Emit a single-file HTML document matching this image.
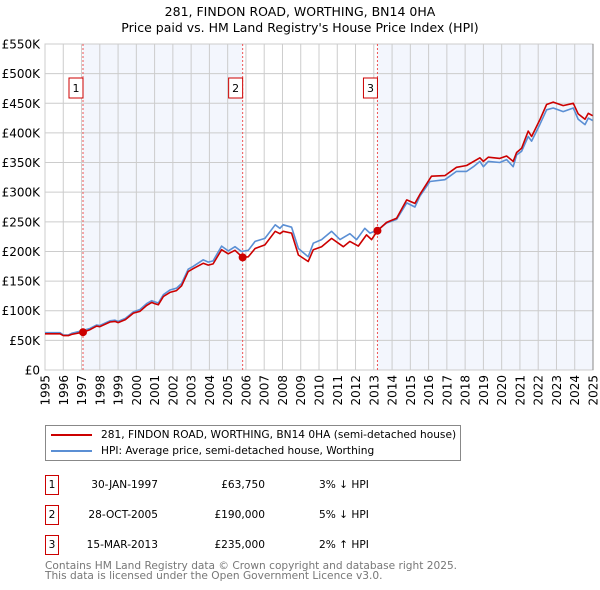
<!DOCTYPE html>
<html><head><meta charset="utf-8"><style>
body{margin:0;background:#fff;font-family:"DejaVu Sans","Liberation Sans",sans-serif;}
#wrap{position:relative;width:600px;height:590px;overflow:hidden;}
.t{position:absolute;color:#000;white-space:nowrap;}
</style></head><body>
<div id="wrap">
<svg id="chart" width="600" height="420" style="position:absolute;left:0;top:0"></svg>
<div class="t" style="left:0;width:600px;text-align:center;top:4px;font-size:12.5px;line-height:16px">281, FINDON ROAD, WORTHING, BN14 0HA<br>Price paid vs. HM Land Registry's House Price Index (HPI)</div>
<div style="position:absolute;left:45px;top:425px;width:416px;height:36px;border:1px solid #888;box-sizing:border-box;font-size:10.6px">
 <div style="position:absolute;left:5px;top:3px;white-space:nowrap"><span style="display:inline-block;width:41px;height:2px;background:#cc0000;vertical-align:middle;margin-right:9px"></span>281, FINDON ROAD, WORTHING, BN14 0HA (semi-detached house)</div>
 <div style="position:absolute;left:5px;top:19px;white-space:nowrap"><span style="display:inline-block;width:41px;height:2px;background:#5b8fd4;vertical-align:middle;margin-right:9px"></span>HPI: Average price, semi-detached house, Worthing</div>
</div>
<div id="tbl" style="font-size:10.6px"></div>
<div class="t" style="left:45px;top:561px;font-size:10.6px;line-height:10px;color:#777">Contains HM Land Registry data © Crown copyright and database right 2025.<br>This data is licensed under the Open Government Licence v3.0.</div>
</div>
<script>
const hpiYears=[1995.0,1995.82,1996.0,1996.28,1996.46,1997.0,1997.46,1997.83,1998.0,1998.56,1998.83,1999.0,1999.4,1999.84,2000.2,2000.57,2000.84,2001.0,2001.2,2001.48,2001.84,2002.2,2002.48,2002.84,2003.12,2003.66,2003.94,2004.2,2004.67,2005.03,2005.4,2005.76,2006.13,2006.5,2007.04,2007.6,2007.86,2008.04,2008.5,2008.87,2009.41,2009.69,2010.14,2010.69,2011.15,2011.69,2012.06,2012.51,2012.79,2013.19,2013.7,2014.25,2014.8,2015.25,2015.52,2016.07,2016.89,2017.53,2018.08,2018.45,2018.81,2019.0,2019.27,2019.9,2020.27,2020.63,2020.82,2021.09,2021.45,2021.64,2022.09,2022.46,2022.82,2023.37,2023.92,2024.19,2024.56,2024.74,2024.98];
const hpiValues=[63,63,59,59,62,66,70,76,75,83,84,82,87,98,102,112,117,115,113,127,135,138,146,170,175,186,182,184,209,201,208,200,202,217,222,245,239,245,241,205,191,214,220,234,220,230,220,239,231,236,248,254,282,275,293,318,321,335,335,343,352,343,352,350,355,343,363,369,394,386,414,439,442,436,442,423,414,425,421];
const ppYears=[1995.0,1995.82,1996.0,1996.28,1996.46,1997.08,1997.46,1997.83,1998.0,1998.56,1998.83,1999.0,1999.4,1999.84,2000.2,2000.57,2000.84,2001.0,2001.2,2001.48,2001.84,2002.2,2002.48,2002.84,2003.12,2003.66,2003.94,2004.2,2004.67,2005.03,2005.4,2005.82,2006.13,2006.5,2007.04,2007.6,2007.86,2008.04,2008.5,2008.87,2009.41,2009.69,2010.14,2010.69,2011.33,2011.69,2012.15,2012.6,2012.88,2013.2,2013.7,2014.25,2014.8,2015.25,2015.52,2016.16,2016.89,2017.53,2018.08,2018.81,2019.0,2019.27,2019.9,2020.27,2020.63,2020.82,2021.09,2021.45,2021.64,2022.09,2022.46,2022.82,2023.37,2023.92,2024.19,2024.56,2024.74,2024.98];
const ppValues=[61,61,58,58,60,63.75,68,74,73,81,82,80,85,96,99,109,114,112,110,124,131,134,142,166,171,180,177,179,203,196,202,190,191,205,211,234,230,234,231,194,183,203,208,222,208,217,209,228,220,235,249,256,287,281,296,327,328,342,345,358,352,359,357,361,352,367,374,403,394,422,448,452,446,450,432,423,433,429];
const saleYears=[1997.08,2005.82,2013.2];
const saleValues=[63.75,190,235];
const saleLabels=["1","2","3"];
const saleDates=["30-JAN-1997","28-OCT-2005","15-MAR-2013"];
const salePrices=["£63,750","£190,000","£235,000"];
const saleDiffs=["3% ↓ HPI","5% ↓ HPI","2% ↑ HPI"];
const yTicks=[0,50,100,150,200,250,300,350,400,450,500,550];
const yTickLabels=["£0","£50K","£100K","£150K","£200K","£250K","£300K","£350K","£400K","£450K","£500K","£550K"];
const xTicks=[1995,1996,1997,1998,1999,2000,2001,2002,2003,2004,2005,2006,2007,2008,2009,2010,2011,2012,2013,2014,2015,2016,2017,2018,2019,2020,2021,2022,2023,2024,2025];

const L=45,R=593,T=44,B=370,X0=1995,X1=2025,Ymax=550;
const sx=y=>L+(y-X0)/(X1-X0)*(R-L);
const sy=v=>B-v/Ymax*(B-T);
const NS="http://www.w3.org/2000/svg";
const svg=document.getElementById('chart');
function mk(tag,attrs,parent){const e=document.createElementNS(NS,tag);for(const k in attrs)e.setAttribute(k,attrs[k]);(parent||svg).appendChild(e);return e;}
let sh=mk('rect',{x:sx(saleYears[0]),y:T,width:sx(saleYears[1])-sx(saleYears[0]),height:B-T,fill:'#f3f6fd'});


let sh2=mk('rect',{x:sx(saleYears[2]),y:T,width:R-sx(saleYears[2]),height:B-T,fill:'#f3f6fd'});


yTicks.forEach((v,i)=>{
 const g=mk('line',{x1:L,x2:R,y1:sy(v),y2:sy(v),stroke:'#cccccc','stroke-width':1});
 
 
 const t=mk('text',{x:L-5,y:sy(v)+4.5,'text-anchor':'end','font-size':12,'font-family':'DejaVu Sans, sans-serif',fill:'#000'});
 t.textContent=yTickLabels[i];
 
 
});
xTicks.forEach(y=>{
 const g=mk('line',{x1:sx(y),x2:sx(y),y1:T,y2:B,stroke:'#cccccc','stroke-width':1});
 
 
 const t=mk('text',{x:0,y:0,'text-anchor':'end','font-size':12,'font-family':'DejaVu Sans, sans-serif',fill:'#000',transform:`translate(${sx(y)+4.5},${B+5}) rotate(-90)`});
 t.textContent=y;
 
 
});
mk('rect',{x:L,y:T,width:R-L,height:B-T,fill:'none',stroke:'#cccccc'});
mk('line',{x1:R,x2:R,y1:T,y2:B,stroke:'#888'});
saleYears.forEach((y,i)=>{
 const d=mk('line',{x1:sx(y),x2:sx(y),y1:T,y2:B,stroke:'#ee5555','stroke-width':1,'stroke-dasharray':'2,2'});
 
 
 const b=mk('rect',{x:sx(y)-14,y:78,width:14,height:20,fill:'#fff',stroke:'#cc0000'});
 
 
 const t=mk('text',{x:sx(y)-7,y:92,'text-anchor':'middle','font-size':11,'font-family':'DejaVu Sans, sans-serif'});
 t.textContent=saleLabels[i];
 
 
});
function line(xs,vs,color,name){
 const p=mk('polyline',{points:xs.map((x,i)=>sx(x).toFixed(1)+','+sy(vs[i]).toFixed(1)).join(' '),fill:'none',stroke:color,'stroke-width':1.6,'stroke-linejoin':'round'});
 
 
}
line(hpiYears,hpiValues,'#5b8fd4','hpi-line');
line(ppYears,ppValues,'#cc0000','price-paid-line');
saleYears.forEach((y,i)=>{
 const c=mk('circle',{cx:sx(y),cy:sy(saleValues[i]),r:4,fill:'#cc0000'});
 
 
});
const tbl=document.getElementById('tbl');
saleLabels.forEach((l,i)=>{
 const top=475+i*30;
 const row=document.createElement('div');
 
 
 row.style.cssText=`position:absolute;left:0;top:${top}px;width:600px;height:20px`;
 row.innerHTML=`<div style="position:absolute;left:45px;top:0;width:14px;height:20px;border:1px solid #cc0000;box-sizing:border-box;text-align:center;line-height:18px">${l}</div>`+
 `<div style="position:absolute;left:58px;width:100px;text-align:right;line-height:20px">${saleDates[i]}</div>`+
 `<div style="position:absolute;left:165px;width:100px;text-align:right;line-height:20px">${salePrices[i]}</div>`+
 `<div style="position:absolute;left:319px;line-height:20px;white-space:nowrap">${saleDiffs[i]}</div>`;
 tbl.appendChild(row);
});
</script>
</body></html>
